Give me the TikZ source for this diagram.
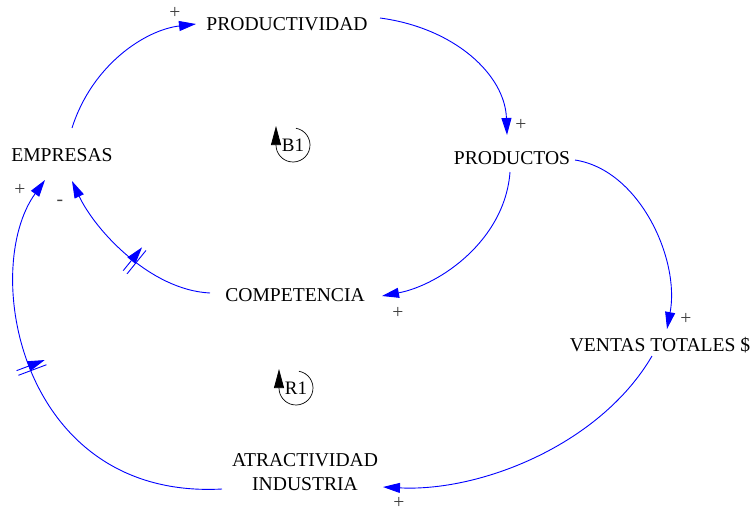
\documentclass[tikz,border=0pt]{standalone}
\usepackage{fontspec}
\setmainfont{Liberation Serif}
\usetikzlibrary{arrows.meta,decorations.markings}
\begin{document}
\begin{tikzpicture}[x=1pt,y=-1pt,
  var/.style={font=\fontsize{19.6}{24}\selectfont, inner sep=0pt, align=center},
  link/.style={draw=blue, line width=0.9pt, -{Triangle[length=17pt,width=10pt]}},
  sign/.style={font=\fontsize{19.6}{20}\selectfont, inner sep=0pt, text=black!75},
  loopname/.style={font=\fontsize{19}{20}\selectfont, inner sep=0pt},
  looparc/.style={draw=black, line width=0.7pt, -{Triangle[length=19pt,width=10pt]}},
  delaymark/.style={postaction=decorate, decoration={markings,
    mark=at position #1 with {\draw[blue,line width=0.9pt] (-2.5,-15)--(-2.5,15) (2.5,-15)--(2.5,15);}}}
]
\useasboundingbox (0,0) rectangle (751,512);

% variables
\node[var] (prod)  at (287,24)  {PRODUCTIVIDAD};
\node[var] (emp)   at (62,155)  {EMPRESAS};
\node[var] (prods) at (512,158) {PRODUCTOS};
\node[var] (comp)  at (295,295) {COMPETENCIA};
\node[var] (vent)  at (660,345) {VENTAS TOTALES \$};
\node[var] (atr)   at (305,472) {ATRACTIVIDAD\\INDUSTRIA};

% causal links
\draw[link] ([shift={(10,-27)}]emp.center) .. controls (92,65) and (145,30) .. ([shift={(-91,0)}]prod.center);
\draw[link] ([shift={(93,-6)}]prod.center) .. controls (455,28) and (505,75) .. ([shift={(-5,-23)}]prods.center);
\draw[link] ([shift={(-2,14)}]prods.center) .. controls (505,240) and (440,285) .. ([shift={(87,1)}]comp.center);
\draw[link,delaymark=0.45] ([shift={(-85,-2)}]comp.center) .. controls (150,290) and (95,230) .. ([shift={(10,26)}]emp.center);
\draw[link] ([shift={(63,2)}]prods.center) .. controls (640,170) and (680,260) .. ([shift={(7,-16)}]vent.center);
\draw[link] ([shift={(-8,11)}]vent.center) .. controls (600,445) and (480,492) .. ([shift={(78,15)}]atr.center);
\draw[link,delaymark=0.555] ([shift={(-83,17)}]atr.center) .. controls (20,500) and (-20,270) .. ([shift={(-17,25)}]emp.center);

% link polarities
\node[sign] (s1) at (175,13)  {+};
\node[sign] (s2) at (521,125) {+};
\node[sign] (s3) at (398,313) {+};
\node[sign] (s4) at (60,203)  {-};
\node[sign] (s5) at (686,319) {+};
\node[sign] (s6) at (399,503) {+};
\node[sign] (s7) at (20,190)  {+};

% loop identifiers
\node[loopname] (b1) at (293,145) {B1};
\draw[looparc] ([shift={(80:17pt)}]b1.center) arc[start angle=80,end angle=-180,radius=17pt] -- ++(0,-19);
\node[loopname] (r1) at (296,388) {R1};
\draw[looparc] ([shift={(80:17pt)}]r1.center) arc[start angle=80,end angle=-180,radius=17pt] -- ++(0,-19);
\end{tikzpicture}
\end{document}
